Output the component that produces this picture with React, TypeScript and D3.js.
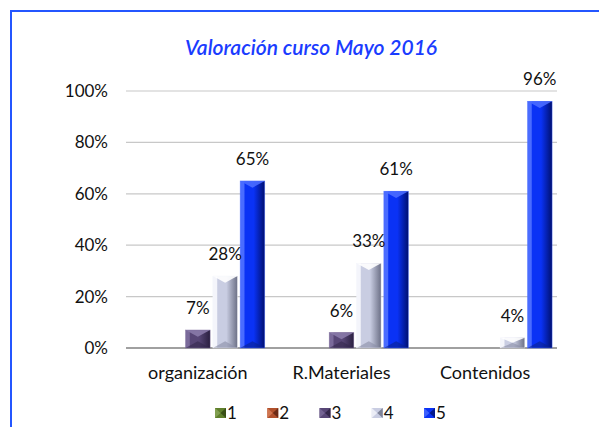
import React from "react";
import * as d3 from "d3";

const categories = ["organización", "R.Materiales", "Contenidos"];
const seriesNames = ["1", "2", "3", "4", "5"];
const series1 = [0, 0, 0];
const series2 = [0, 0, 0];
const series3 = [0.07, 0.06, 0];
const series4 = [0.28, 0.33, 0.04];
const series5 = [0.65, 0.61, 0.96];
const yTicks = [0, 0.2, 0.4, 0.6, 0.8, 1.0];
const title = "Valoración curso Mayo 2016";

const allSeries = [series1, series2, series3, series4, series5];

const palettes = [
  { light: "#8aa85a", mid: "#5f7f2c", dark: "#2f4412", top: "#9cbc68", bot: "#3c5418" },
  { light: "#d8805a", mid: "#b0502c", dark: "#5a2010", top: "#e09070", bot: "#702a14" },
  { light: "#7a6a9a", mid: "#574676", dark: "#2a1f40", top: "#8a7aaa", bot: "#34284c" },
  { light: "#f4f5fb", mid: "#c9cde2", dark: "#6c7086", top: "#ffffff", bot: "#8a8ea6" },
  { light: "#4a6cff", mid: "#0a32f5", dark: "#001070", top: "#4a6cff", bot: "#0a2290" },
];

const W = 599;
const H = 427;
const font = "Lato, 'Open Sans', sans-serif";

export default function App() {
  const x0 = d3.scaleBand<string>().domain(categories).range([126, 557]).paddingInner(0).paddingOuter(0);
  const x1 = d3
    .scaleBand<string>()
    .domain(seriesNames)
    .range([0, x0.bandwidth()])
    .paddingInner(0.1)
    .paddingOuter(0.18);
  const y = d3.scaleLinear().domain([0, 1]).range([348, 91]);
  const fmt = d3.format(".0%");

  const bars: React.ReactNode[] = [];
  const labels: React.ReactNode[] = [];
  allSeries.forEach((vals, si) => {
    vals.forEach((v, ci) => {
      if (v <= 0) return;
      const bx = (x0(categories[ci]) as number) + (x1(seriesNames[si]) as number);
      const bw = x1.bandwidth();
      const by = y(v);
      const bh = y(0) - by;
      const p = palettes[si];
      const bev = Math.min(bw / 2 * 0.55, bh / 2);
      bars.push(
        <g key={`b${si}-${ci}`}>
          <rect x={bx} y={by} width={bw} height={bh} fill={`url(#grad${si})`} />
          <polygon
            points={`${bx},${by} ${bx + bw},${by} ${bx + bw / 2},${by + bev}`}
            fill={p.top}
            opacity={0.9}
          />
          <polygon
            points={`${bx},${by + bh} ${bx + bw},${by + bh} ${bx + bw / 2},${by + bh - bev}`}
            fill={p.bot}
            opacity={0.6}
          />
          <rect x={bx} y={by} width={bw} height={bh} fill="none" stroke={p.light} strokeWidth={0.6} opacity={0.7} />
        </g>
      );
      labels.push(
        <text
          key={`l${si}-${ci}`}
          x={bx + bw / 2}
          y={by - 16}
          textAnchor="middle"
          fontSize={17}
          fontFamily={font}
          fill="#111"
        >
          {fmt(v)}
        </text>
      );
    });
  });

  const legendX = d3.scalePoint<string>().domain(seriesNames).range([215, 424]);

  return (
    <svg width={W} height={H} style={{ position: "absolute", left: 0, top: 0 }}>
      <defs>
        {palettes.map((p, i) => (
          <linearGradient key={i} id={`grad${i}`} x1="0" y1="0" x2="1" y2="0">
            <stop offset="0" stopColor={p.light} />
            <stop offset="0.15" stopColor={p.light} />
            <stop offset="0.2" stopColor={p.mid} />
            <stop offset="0.55" stopColor={p.mid} />
            <stop offset="1" stopColor={p.dark} />
          </linearGradient>
        ))}
      </defs>
      <rect x={0} y={0} width={W} height={H} fill="#fff" />
      <path d={`M11,${H} L11,11 L${W},11`} fill="none" stroke="#2456ff" strokeWidth={2} />
      <text
        x={311}
        y={55}
        textAnchor="middle"
        fontSize={21}
        fontWeight={600}
        fontStyle="italic"
        fontFamily={font}
        fill="#1a3cff"
      >
        {title}
      </text>
      {yTicks.map((t) => (
        <g key={t}>
          <line
            x1={126}
            x2={557}
            y1={y(t)}
            y2={y(t)}
            stroke={t === 0 ? "#a0a0a0" : "#c8c8c8"}
            strokeWidth={t === 0 ? 2 : 1.2}
          />
          <text x={108} y={y(t) + 6} textAnchor="end" fontSize={17} fontFamily={font} fill="#111">
            {fmt(t)}
          </text>
        </g>
      ))}
      {bars}
      {labels}
      {categories.map((c) => (
        <text
          key={c}
          x={(x0(c) as number) + x0.bandwidth() / 2}
          y={379}
          textAnchor="middle"
          fontSize={18}
          fontFamily={font}
          fill="#111"
        >
          {c}
        </text>
      ))}
      {seriesNames.map((s, i) => {
        const lx = legendX(s) as number;
        const p = palettes[i];
        return (
          <g key={s}>
            <rect x={lx} y={408} width={11} height={10} fill={p.mid} />
            <polygon points={`${lx},${408} ${lx + 5.5},${413} ${lx},${418}`} fill={p.light} opacity={0.8} />
            <polygon points={`${lx + 11},${408} ${lx + 5.5},${413} ${lx + 11},${418}`} fill={p.dark} opacity={0.8} />
            <text x={lx + 12} y={419} fontSize={17} fontFamily={font} fill="#111">
              {s}
            </text>
          </g>
        );
      })}
    </svg>
  );
}
